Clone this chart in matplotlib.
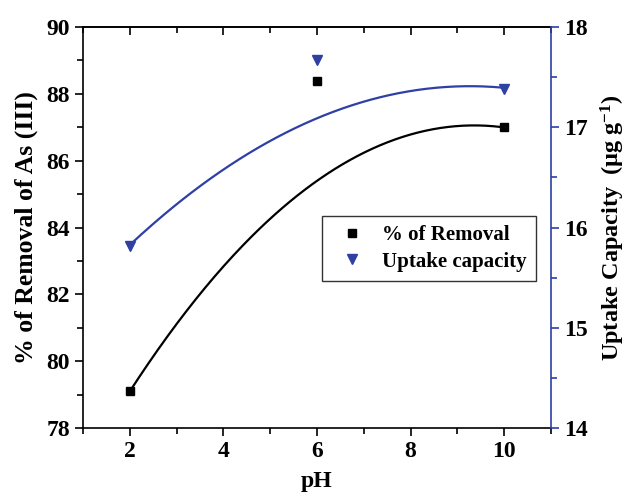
import numpy as np
import matplotlib
matplotlib.use("Agg")
import matplotlib.pyplot as plt
from matplotlib.ticker import MultipleLocator

plt.rcParams['font.family'] = ['Liberation Serif', 'DejaVu Serif']
plt.rcParams['font.weight'] = 'bold'
plt.rcParams['mathtext.fontset'] = 'custom'
plt.rcParams['mathtext.rm'] = 'Liberation Serif:bold'
plt.rcParams['mathtext.it'] = 'Liberation Serif:bold'
plt.rcParams['mathtext.bf'] = 'Liberation Serif:bold'

# measured points
ph = [2, 6, 10]
removal = [79.1, 88.4, 87.0]
uptake = [15.82, 17.67, 17.38]

# fitted curve samples
curve_ph = [2, 4, 6, 8, 10]
removal_curve = [79.1, 82.82, 85.42, 86.77, 87.0]
uptake_curve = [15.82, 16.59, 17.09, 17.35, 17.40]

blue = '#2e40a4'

fig = plt.figure(figsize=(6.3, 4.92), dpi=100)
ax = fig.add_axes([0.1317, 0.130, 0.7429, 0.815])
ax2 = ax.twinx()

xs = np.linspace(2, 10, 200)
pr = np.polyfit(curve_ph, removal_curve, 2)
pu = np.polyfit(curve_ph, uptake_curve, 2)

ax.plot(xs, np.polyval(pr, xs), color='black', lw=1.6, zorder=2)
h1, = ax.plot(ph, removal, ls='none', marker='s', ms=6, color='black', label='% of Removal', zorder=3)
ax2.plot(xs, np.polyval(pu, xs), color=blue, lw=1.6, zorder=2)
h2, = ax2.plot(ph, uptake, ls='none', marker='v', ms=7, color=blue, label='Uptake capacity', zorder=3)

ax.set_xlim(1, 11)
ax.set_ylim(78, 90)
ax2.set_ylim(14, 18)

ax.xaxis.set_major_locator(MultipleLocator(2))
ax.xaxis.set_minor_locator(MultipleLocator(1))
ax.yaxis.set_major_locator(MultipleLocator(2))
ax.yaxis.set_minor_locator(MultipleLocator(1))
ax2.yaxis.set_major_locator(MultipleLocator(1))
ax2.yaxis.set_minor_locator(MultipleLocator(0.5))

ax.tick_params(axis='x', which='both', direction='out', top=False, labelsize=17, width=1.2)
ax.tick_params(axis='x', which='major', length=6)
ax.tick_params(axis='x', which='minor', length=4)
ax.tick_params(axis='y', which='major', direction='out', length=6, width=1.2, labelsize=17)
ax.tick_params(axis='y', which='minor', direction='out', length=4, width=1.2)
ax2.tick_params(axis='y', which='major', direction='out', length=6, width=1.2, labelsize=17, color=blue)
ax2.tick_params(axis='y', which='minor', direction='out', length=4, width=1.2, color=blue)

# top ticks point into the plot
top = ax.secondary_xaxis('top')
top.xaxis.set_major_locator(MultipleLocator(2))
top.xaxis.set_minor_locator(MultipleLocator(1))
top.tick_params(axis='x', which='both', direction='in', labeltop=False, width=1.2)
top.tick_params(axis='x', which='major', length=6)
top.tick_params(axis='x', which='minor', length=4)
top.spines['top'].set_linewidth(1.2)

for s in ['left', 'bottom', 'top']:
    ax.spines[s].set_linewidth(1.2)
for s in ['left', 'bottom', 'top']:
    ax2.spines[s].set_visible(False)
ax2.spines['right'].set_color(blue)
ax2.spines['right'].set_linewidth(1.2)
ax.spines['right'].set_visible(False)

ax.set_xlabel('pH', fontsize=17, fontweight='bold', labelpad=6)
ax.set_ylabel('% of Removal of As (III)', fontsize=18.5, fontweight='bold', labelpad=6)
ax2.set_ylabel(r'Uptake Capacity  ($\mathbf{\mu}$g g$^{\mathbf{-1}}$)', fontsize=17.5, fontweight='bold', labelpad=8)

leg = ax.legend(handles=[h1, h2], loc='upper left', bbox_to_anchor=(0.511, 0.529),
                borderaxespad=0, fontsize=15, frameon=True, fancybox=False, edgecolor='black',
                handlelength=2.0, handletextpad=0.4, borderpad=0.45, labelspacing=0.3)
leg.get_frame().set_linewidth(1.0)
leg.set_zorder(5)

fig.savefig('out.png', dpi=100)
